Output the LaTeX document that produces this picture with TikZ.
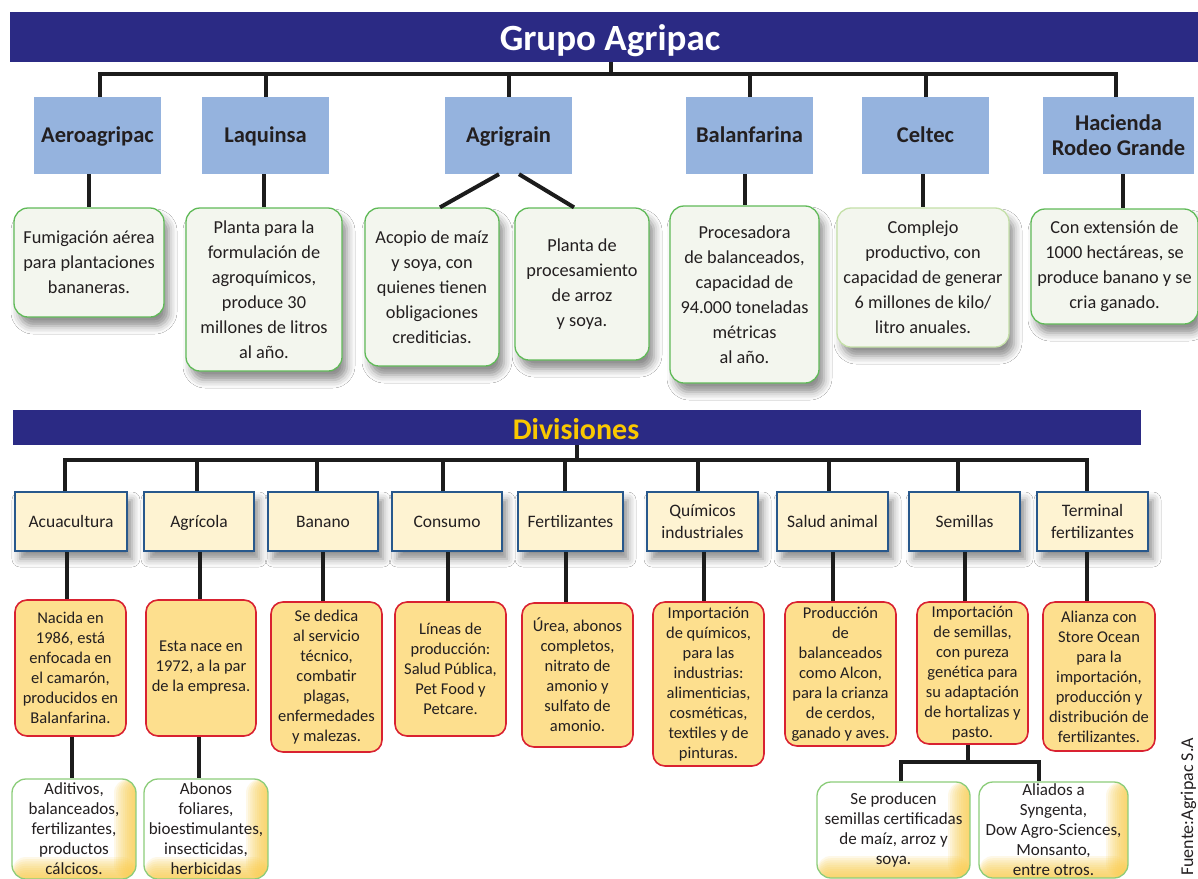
\documentclass[tikz,border=0pt]{standalone}
\usepackage{fontspec}
\setmainfont{Carlito}
\usetikzlibrary{shadows.blur,calc}
\definecolor{navy}{RGB}{43,42,132}
\definecolor{compblue}{RGB}{149,179,222}
\definecolor{grnborder}{RGB}{96,186,88}
\definecolor{grnpale}{RGB}{196,224,168}
\definecolor{grnfill}{RGB}{243,246,238}
\definecolor{divfill}{RGB}{254,243,210}
\definecolor{divborder}{RGB}{40,88,140}
\definecolor{orfill}{RGB}{253,223,142}
\definecolor{orborder}{RGB}{217,34,49}
\definecolor{yel}{RGB}{250,204,70}
\definecolor{divtitle}{RGB}{250,200,0}
\definecolor{txt}{RGB}{35,31,32}
\definecolor{connc}{RGB}{28,28,28}
\definecolor{ltgreen}{RGB}{140,205,122}
\begin{document}
\begin{tikzpicture}[x=1pt,y=-1pt,
  conn/.style={draw=connc, line width=4pt, line join=miter},
  comp/.style={fill=compblue, minimum height=77pt, inner sep=0pt, align=center, text=txt, font=\bfseries\fontsize{22.5}{25}\selectfont},
  capc/.style={text height=14.5pt, text depth=0pt},
  desc/.style={draw=grnborder, line width=1.3pt, fill=grnfill, rounded corners=14pt, inner sep=0pt, align=center, text=txt, font=\fontsize{18.3}{25}\selectfont, blur shadow={shadow xshift=5pt, shadow yshift=-9pt, shadow blur radius=8pt, shadow opacity=45}},
  divb/.style={draw=divborder, line width=2pt, fill=divfill, minimum height=59pt, inner sep=0pt, align=center, text=txt, font=\fontsize{17.5}{22}\selectfont, blur shadow={shadow xshift=5pt, shadow yshift=-8pt, shadow blur radius=8pt, shadow opacity=45}},
  capd/.style={text height=11.3pt, text depth=0pt},
  orb/.style={draw=orborder, line width=1.6pt, fill=orfill, rounded corners=12pt, inner sep=0pt, align=center, text=txt, font=\fontsize{16.5}{20}\selectfont},
  botb/.style={draw=ltgreen, line width=1.3pt, fill=white, rounded corners=14pt, inner sep=0pt, align=center, text=txt, font=\fontsize{17}{20}\selectfont,
    path picture={\foreach \k in {1,...,10} {
      \fill[yel, opacity=0.13] ([xshift=-2.2pt*\k]path picture bounding box.north east) rectangle (path picture bounding box.south east);
      \fill[yel, opacity=0.13] ([yshift=2.2pt*\k]path picture bounding box.south west) rectangle (path picture bounding box.south east);}}}
]
\useasboundingbox (0,0) rectangle (1198,878);
\clip (0,0) rectangle (1198,878);
\fill[white] (0,0) rectangle (1198,878);

% title bars
\node[fill=navy, minimum width=1188pt, minimum height=50pt, inner sep=0pt] (title) at (604,37) {};
\node[text=white, font=\bfseries\fontsize{37}{40}\selectfont, anchor=base, inner sep=0pt] (titletxt) at (610,50) {Grupo Agripac};
\node[fill=navy, minimum width=1128pt, minimum height=35pt, inner sep=0pt] (div) at (577,427.5) {};
\node[text=divtitle, font=\bfseries\fontsize{30}{32}\selectfont, anchor=base, inner sep=0pt] (divtxt) at (576,439) {Divisiones};
\coordinate (bus) at (611,74);
\coordinate (dbus) at (577,460);

% companies
\node[comp, capc, minimum width=127pt] (aero) at (97.5,135.5) {Aeroagripac};
\node[comp, capc, minimum width=127pt] (laq) at (265.5,135.5) {Laquinsa};
\node[comp, capc, minimum width=127pt] (agg) at (508.5,135.5) {Agrigrain};
\node[comp, capc, minimum width=127pt] (bal) at (749.5,135.5) {Balanfarina};
\node[comp, capc, minimum width=127pt] (cel) at (925.5,135.5) {Celtec};
\node[comp, minimum width=151pt] (hac) at (1118.5,135.5) {Hacienda\\Rodeo Grande};

% company descriptions
\node[desc, minimum width=150pt, minimum height=109pt] (fum) at (89,262.5) {Fumigación aérea\\para plantaciones\\bananeras.};
\node[desc, minimum width=156pt, minimum height=163pt] (pla) at (264,289.5) {Planta para la\\formulación de\\agroquímicos,\\produce 30\\millones de litros\\al año.};
\node[desc, minimum width=134pt, minimum height=158pt] (aco) at (432,287) {Acopio de maíz\\y soya, con\\quienes tienen\\obligaciones\\crediticias.};
\node[desc, minimum width=134pt, minimum height=152pt] (pro) at (582,284) {Planta de\\procesamiento\\de arroz\\y soya.};
\node[desc, minimum width=149pt, minimum height=177pt] (bpr) at (744.5,294.5) {Procesadora\\de balanceados,\\capacidad de\\94.000 toneladas\\métricas\\al año.};
\node[desc, draw=grnpale, minimum width=172pt, minimum height=139pt] (com) at (923,277.5) {Complejo\\productivo, con\\capacidad de generar\\6 millones de kilo/\\litro anuales.};
\node[desc, minimum width=167pt, minimum height=115pt] (cex) at (1114.5,266.5) {Con extensión de\\1000 hectáreas, se\\produce banano y se\\cria ganado.};

% divisions
\node[divb, capd, minimum width=112pt] (acu) at (71,521.5) {Acuacultura};
\node[divb, capd, minimum width=110pt] (agr) at (199,521.5) {Agrícola};
\node[divb, capd, minimum width=110pt] (ban) at (323,521.5) {Banano};
\node[divb, capd, minimum width=110pt] (con) at (447,521.5) {Consumo};
\node[divb, capd, minimum width=105pt] (fer) at (570.5,521.5) {Fertilizantes};
\node[divb, minimum width=111pt] (qui) at (702.5,521.5) {Químicos\\industriales};
\node[divb, capd, minimum width=111pt] (sal) at (832.5,521.5) {Salud animal};
\node[divb, capd, minimum width=111pt] (sem) at (964.5,521.5) {Semillas};
\node[divb, minimum width=111pt] (ter) at (1092.5,521.5) {Terminal\\fertilizantes};

% division descriptions
\node[orb, minimum width=111pt, minimum height=136pt] (nac) at (70.5,668) {Nacida en\\1986, está\\enfocada en\\el camarón,\\producidos en\\Balanfarina.};
\node[orb, minimum width=110pt, minimum height=136pt] (est) at (201,668) {Esta nace en\\1972, a la par\\de la empresa.};
\node[orb, minimum width=111pt, minimum height=150pt] (sed) at (326.5,677) {Se dedica\\al servicio\\técnico,\\combatir\\plagas,\\enfermedades\\y malezas.};
\node[orb, minimum width=111pt, minimum height=134pt] (lin) at (450.5,669) {Líneas de\\producción:\\Salud Pública,\\Pet Food y\\Petcare.};
\node[orb, minimum width=111pt, minimum height=144pt] (ure) at (577.5,675) {Úrea, abonos\\completos,\\nitrato de\\amonio y\\sulfato de\\amonio.};
\node[orb, minimum width=111pt, minimum height=164pt] (imq) at (708.5,684) {Importación\\de químicos,\\para las\\industrias:\\alimenticias,\\cosméticas,\\textiles y de\\pinturas.};
\node[orb, minimum width=111pt, minimum height=144pt] (prd) at (840.5,674) {Producción\\de\\balanceados\\como Alcon,\\para la crianza\\de cerdos,\\ganado y aves.};
\node[orb, minimum width=111pt, minimum height=142pt] (ims) at (972.5,673) {Importación\\de semillas,\\con pureza\\genética para\\su adaptación\\de hortalizas y\\pasto.};
\node[orb, minimum width=112pt, minimum height=149pt] (ali) at (1099,676.5) {Alianza con\\Store Ocean\\para la\\importación,\\producción y\\distribución de\\fertilizantes.};

% third level
\node[botb, minimum width=124pt, minimum height=100pt] (adi) at (74,829) {Aditivos,\\balanceados,\\fertilizantes,\\productos\\cálcicos.};
\node[botb, minimum width=124pt, minimum height=100pt] (abo) at (206,829) {Abonos\\foliares,\\bioestimulantes,\\insecticidas,\\herbicidas};
\node[botb, minimum width=153pt, minimum height=96pt] (spr) at (893.5,830) {Se producen\\semillas certificadas\\de maíz, arroz y\\soya.};
\node[botb, minimum width=149pt, minimum height=96pt] (ald) at (1053.5,830) {Aliados a\\Syngenta,\\Dow Agro-Sciences,\\Monsanto,\\entre otros.};

% source
\node[rotate=90, anchor=base west, inner sep=0pt, text=txt, font=\fontsize{18}{20}\selectfont] (src) at (1193,876) {Fuente:Agripac S.A};

% connectors
\draw[conn] (title.south -| bus) -- (bus);
\draw[conn] ($(aero.north)+(2.5,0)$) |- (bus) -| ($(hac.north)+(-2.5,0)$);
\foreach \nn in {laq,agg,bal,cel} \draw[conn] (\nn.north) -- (\nn.north |- bus);
\draw[conn] (aero.south -| fum.north) -- (fum.north);
\draw[conn] (laq.south -| pla.north) -- (pla.north);
\draw[conn] ($(agg.south)+(-9.5,0)$) -- ($(aco.north)+(8,0)$);
\draw[conn] ($(agg.south)+(10.5,0)$) -- ($(pro.north)+(-8,0)$);
\draw[conn] (bal.south -| bpr.north) -- (bpr.north);
\draw[conn] (cel.south -| com.north) -- (com.north);
\coordinate (hacd) at ($(hac.south)+(4.5,0)$);
\draw[conn] (hacd) -- (hacd |- cex.north);

\draw[conn] (div.south -| dbus) -- (dbus);
\draw[conn] ($(acu.north)+(-6,0)$) |- (dbus) -| ($(ter.north)+(-5.5,0)$);
\foreach \nn/\ss in {agr/-2, ban/-6, con/-4, fer/-5.5, qui/-4.5, sal/-3.5, sem/-6.5}
  \draw[conn] ($(\nn.north)+(\ss,0)$) -- ($(\nn.north |- dbus)+(\ss,0)$);
\foreach \na/\nb/\ss in {acu/nac/-4, agr/est/1, ban/sed/0, con/lin/1, fer/ure/-4.5, qui/imq/1.5, sal/prd/0, sem/ims/0.5, ter/ali/-5.5}
  \draw[conn] ($(\na.south)+(\ss,0)$) -- ($(\na.south |- \nb.north)+(\ss,0)$);

\draw[conn] ($(nac.south)+(1.5,0)$) -- ($(nac.south |- adi.north)+(1.5,0)$);
\draw[conn] ($(est.south)+(-2,0)$) -- ($(est.south |- abo.north)+(-2,0)$);
\coordinate (sj) at (968,762);
\draw[conn] (ims.south -| sj) -- (sj);
\draw[conn] ($(spr.north)+(7.5,0)$) |- (sj) -| ($(ald.north)+(-14.5,0)$);
\end{tikzpicture}
\end{document}
